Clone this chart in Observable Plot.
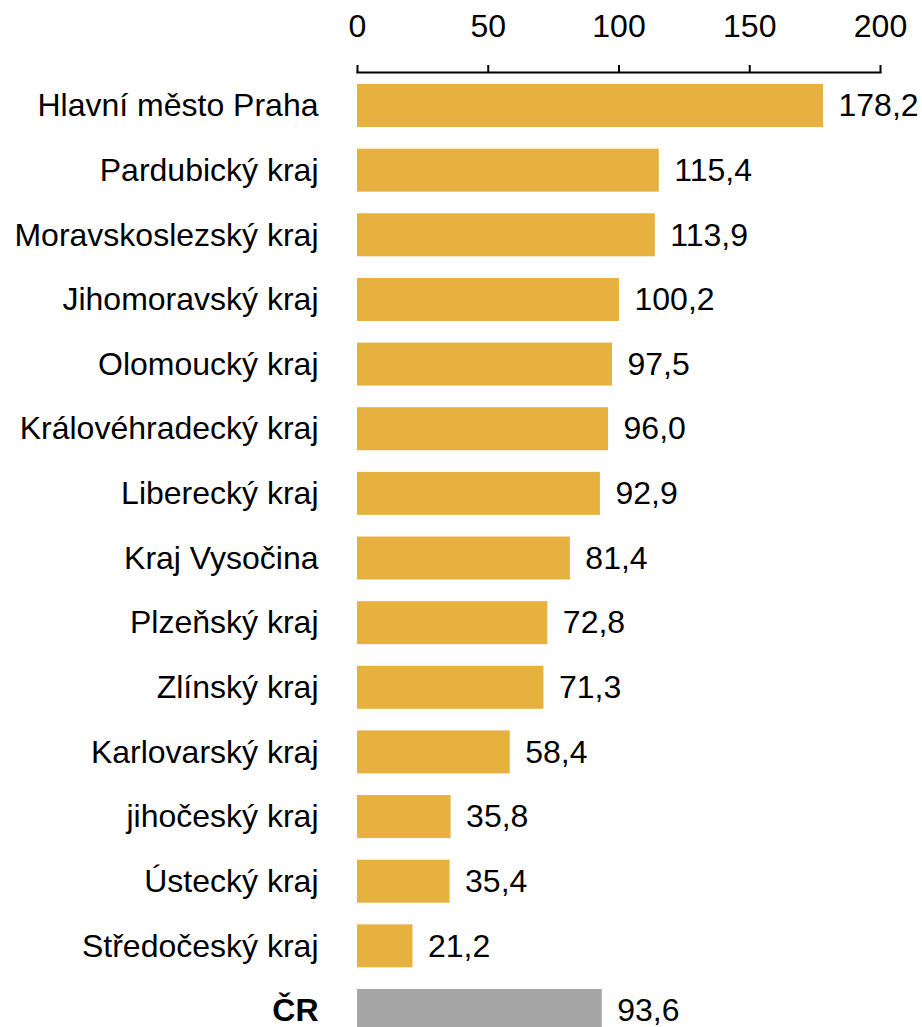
<!DOCTYPE html>
<html>
<head>
<meta charset="utf-8">
<script src="https://cdn.jsdelivr.net/npm/d3@7"></script>
<script src="https://cdn.jsdelivr.net/npm/@observablehq/plot@0.6"></script>
<style>
  html, body { margin: 0; padding: 0; overflow: hidden; background: #fff; }
</style>
</head>
<body>
<div id="chart"></div>
<script>
const regions = ["Hlavní město Praha", "Pardubický kraj", "Moravskoslezský kraj", "Jihomoravský kraj", "Olomoucký kraj", "Královéhradecký kraj", "Liberecký kraj", "Kraj Vysočina", "Plzeňský kraj", "Zlínský kraj", "Karlovarský kraj", "jihočeský kraj", "Ústecký kraj", "Středočeský kraj", "ČR"];
const values = [178.2, 115.4, 113.9, 100.2, 97.5, 96.0, 92.9, 81.4, 72.8, 71.3, 58.4, 35.8, 35.4, 21.2, 93.6];
const xTicks = [0, 50, 100, 150, 200];
const totalLabel = "ČR";

const data = regions.map((r, i) => ({region: r, value: values[i], total: r === totalLabel}));
const fmt = v => d3.format(".1f")(v).replace(".", ",");

const chart = Plot.plot({
  width: 922,
  height: 1044,
  marginLeft: 357,
  marginRight: 42,
  marginTop: 72,
  marginBottom: 0,
  style: {fontFamily: "'Liberation Sans', Arial, sans-serif", fontSize: "32px", color: "#000", background: "#fff"},
  x: {domain: [0, 200]},
  y: {domain: regions, paddingInner: 0.335, paddingOuter: 0.186, round: false, axis: null},
  color: {domain: [false, true], range: ["#E6B13F", "#A6A6A6"]},
  marks: [
    Plot.barX(data, {x: "value", y: "region", fill: d => d.total}),
    Plot.text(data, {x: "value", y: "region", text: d => fmt(d.value), textAnchor: "start", dx: 15, fill: "#000"}),
    Plot.text(data.filter(d => !d.total), {x: 0, y: "region", text: "region", textAnchor: "end", dx: -39, fill: "#000"}),
    Plot.text(data.filter(d => d.total), {x: 0, y: "region", text: "region", textAnchor: "end", dx: -39, fill: "#000", fontWeight: "bold"}),
    Plot.axisX({anchor: "top", ticks: xTicks, tickSize: 8, tickPadding: 28, strokeWidth: 2, tickFormat: d => String(d), fontSize: 32, label: null}),
    Plot.frame({anchor: "top", strokeWidth: 2})
  ]
});
document.getElementById("chart").appendChild(chart);
</script>
</body>
</html>
